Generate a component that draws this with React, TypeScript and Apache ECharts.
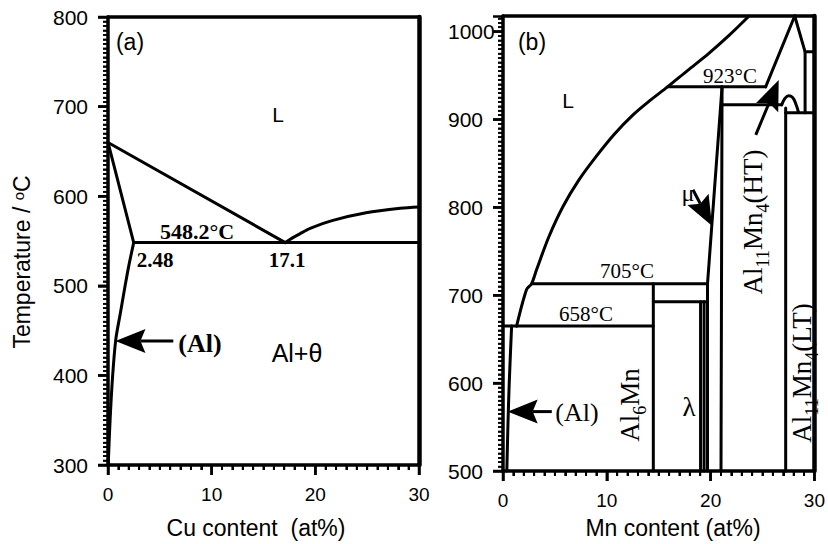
import React, { useEffect, useRef } from 'react';
import * as echarts from 'echarts';

// ---------- Panel (a): Al–Cu ----------
const cuXRange = [0, 30];
const cuYRange = [300, 800];
const cuXMajorTicks = [0, 10, 20, 30];
const cuYMajorTicks = [300, 400, 500, 600, 700, 800];
const cuLiquidusLeft = [[0, 660], [17.1, 548.2]];
const cuLiquidusRight = [[17.1, 548.2], [17.8, 553.5], [18.5, 558], [19.5, 564], [21.7, 573], [24.9, 581.5], [28.2, 586.5], [30, 588]];
const cuSolidus = [[0, 660], [2.48, 548.2]];
const cuEutectic = [[2.48, 548.2], [30, 548.2]];
const cuSolvus = [[2.48, 548.2], [2.0, 522], [1.65, 500], [1.2, 470], [0.75, 440], [0.45, 400], [0.2, 350], [0.02, 300]];
const cuArrows = [[6.3, 438.5, 0.72, 438.5]];

// ---------- Panel (b): Al–Mn ----------
const mnXRange = [0, 30];
const mnYRange = [500, 1017.8];
const mnXMajorTicks = [0, 10, 20, 30];
const mnYMajorTicks = [500, 600, 700, 800, 900, 1000];
const mnLiquidus = [[1.31, 664.8], [2.27, 706.5], [2.75, 713], [3.23, 729], [4.4, 766], [5.78, 801], [7.3, 831], [8.98, 858], [10.7, 883], [12.5, 905], [14.2, 922], [15.85, 937.2], [17.8, 956], [19.8, 975], [21.8, 996], [23.7, 1017.8]];
const mnSolvus = [[0.83, 665], [0.6, 600], [0.47, 550], [0.37, 500]];
const mnEutectic = [[0, 665], [14.48, 665]];
const mnPeritectic705 = [[2.75, 713], [19.7, 713]];
const mnLine692 = [[14.48, 692.5], [19.7, 692.5]];
const mnAl6MnRight = [[14.48, 713], [14.48, 500]];
const mnLambdaLeft = [[19.03, 692.5], [19.03, 500]];
const mnLambdaRight = [[19.37, 692.5], [19.37, 500]];
const mnMuLeft = [[21.1, 937.2], [19.7, 713], [19.7, 500]];
const mnMuRight = [[21.1, 937.2], [21.0, 500]];
const mnPeritectic923 = [[15.85, 937.2], [25.3, 937.2]];
const mnHTBoundary = [[28.1, 1017.8], [25.3, 937.2]];
const mnTopRight = [[28.1, 1017.8], [29.1, 977], [30, 977]];
const mnRightVertical = [[29.1, 977], [29.1, 907.6]];
const mnLine917 = [[21.05, 916.7], [26.85, 916.7]];
const mnBump = [[26.85, 916.7], [27.1, 923], [27.5, 927], [27.9, 925], [28.2, 918], [28.45, 909]];
const mnLine908 = [[27.23, 907.6], [30, 907.6]];
const mnLTLeft = [[27.23, 913], [27.23, 500]];
const mnArrows = [[4.7, 567.6, 0.45, 567.6], [18.3, 820, 20.13, 779], [24.35, 882.6, 26.56, 945]];

// minor tick steps (axis units)
const xMinorStep = 1;
const yMinorStep = 5;

const SANS = '"Liberation Sans", Arial, sans-serif';
const SERIF = '"Liberation Serif", "Times New Roman", serif';

function lineSeries(data: any[], idx: number, smooth: boolean | number = false, width = 3) {
  return {
    type: 'line',
    data,
    xAxisIndex: idx,
    yAxisIndex: idx,
    showSymbol: false,
    symbol: 'none',
    smooth,
    clip: false,
    silent: true,
    lineStyle: { color: '#000', width, cap: 'round', join: 'round' },
  };
}

function arrowSeries(data: number[][], idx: number) {
  const L = 30;
  const W = 12;
  const N = 5;
  return {
    type: 'custom',
    coordinateSystem: 'cartesian2d',
    xAxisIndex: idx,
    yAxisIndex: idx,
    silent: true,
    clip: false,
    data,
    encode: { x: [0, 2], y: [1, 3] },
    renderItem: (params: any, api: any) => {
      const p1 = api.coord([api.value(0), api.value(1)]);
      const p2 = api.coord([api.value(2), api.value(3)]);
      const dx = p2[0] - p1[0];
      const dy = p2[1] - p1[1];
      const len = Math.hypot(dx, dy) || 1;
      const ux = dx / len;
      const uy = dy / len;
      const bx = p2[0] - ux * L;
      const by = p2[1] - uy * L;
      const nx = p2[0] - ux * (L - N);
      const ny = p2[1] - uy * (L - N);
      return {
        type: 'group',
        children: [
          { type: 'line', shape: { x1: p1[0], y1: p1[1], x2: nx, y2: ny }, style: { stroke: '#000', lineWidth: 3 } },
          {
            type: 'polygon',
            shape: { points: [[p2[0], p2[1]], [bx - uy * W, by + ux * W], [nx, ny], [bx + uy * W, by - ux * W]] },
            style: { fill: '#000' },
          },
        ],
      };
    },
  };
}

function txt(text: string, x: number, y: number, size: number, family: string, weight: string = 'normal', rotation = 0, rich?: any) {
  const style: any = {
    text,
    fontSize: size,
    fontFamily: family,
    fontWeight: weight,
    fill: '#000',
    align: 'center',
    verticalAlign: 'middle',
  };
  if (rich) style.rich = rich;
  return { type: 'text', x, y, rotation, silent: true, style };
}

const subRich = (size: number, family: string) => ({
  m: { fontSize: size, fontFamily: family, lineHeight: size + 10, verticalAlign: 'middle' },
  s: { fontSize: Math.round(size * 0.68), fontFamily: family, lineHeight: Math.round(size * 0.68), verticalAlign: 'bottom' },
});

function makeAxis(kind: 'x' | 'y', grid: number, range: number[], interval: number, minorSplit: number, label: any) {
  return {
    type: 'value',
    gridIndex: grid,
    position: kind === 'x' ? 'bottom' : 'left',
    min: range[0],
    max: range[1],
    interval,
    axisLine: { show: true, onZero: false, lineStyle: { color: '#000', width: 3.5 } },
    axisTick: { show: true, inside: false, length: 10, lineStyle: { color: '#000', width: 2.5 } },
    minorTick: { show: true, splitNumber: minorSplit, length: 5, lineStyle: { color: '#000', width: kind === 'x' ? 2 : 1.6 } },
    splitLine: { show: false },
    minorSplitLine: { show: false },
    axisLabel: {
      show: true,
      color: '#000',
      fontFamily: SANS,
      formatter: (v: number) => String(v),
      ...label,
    },
  };
}

function frameAxis(kind: 'x' | 'y', grid: number, range: number[]) {
  return {
    type: 'value',
    gridIndex: grid,
    position: kind === 'x' ? 'top' : 'right',
    min: range[0],
    max: range[1],
    axisLine: { show: true, onZero: false, lineStyle: { color: '#000', width: kind === 'x' ? 3.5 : 4.5 } },
    axisTick: { show: false },
    minorTick: { show: false },
    axisLabel: { show: false },
    splitLine: { show: false },
  };
}

// tick marks placed with the chart's own scale (convertToPixel)
function buildTicks(chart: any, gridIndex: number, xRange: number[], yRange: number[], yTop: number, xMajor: number[], yMajor: number[]) {
  const out: any[] = [];
  for (let v = xRange[0]; v <= xRange[1] + 1e-9; v += xMinorStep) {
    const r = Math.round(v * 1000) / 1000;
    const major = xMajor.indexOf(r) >= 0;
    const p = chart.convertToPixel({ gridIndex }, [r, yRange[0]]);
    if (!p) continue;
    const len = major ? 10 : 5;
    out.push({
      type: 'line', silent: true, z: 50,
      shape: { x1: p[0], y1: p[1] - 1, x2: p[0], y2: p[1] + len },
      style: { stroke: '#000', lineWidth: major ? 2.5 : 2 },
    });
  }
  for (let v = yRange[0]; v <= yTop + 1e-9; v += yMinorStep) {
    const r = Math.round(v * 1000) / 1000;
    const major = yMajor.indexOf(r) >= 0;
    const p = chart.convertToPixel({ gridIndex }, [xRange[0], r]);
    if (!p) continue;
    const len = major ? 10 : 5;
    out.push({
      type: 'line', silent: true, z: 50,
      shape: { x1: p[0] + 1, y1: p[1], x2: p[0] - len, y2: p[1] },
      style: { stroke: '#000', lineWidth: major ? 2.5 : 1.6 },
    });
  }
  return out;
}

export default function App() {
  const ref = useRef<HTMLDivElement>(null);
  useEffect(() => {
    document.body.style.margin = '0';
    if (!ref.current) return;
    const chart = echarts.init(ref.current, null, { renderer: 'svg' });

    const texts = [
      // panel (a)
      txt('(a)', 130, 42, 23, SANS),
      txt('L', 278, 114, 21, SANS),
      txt('548.2°C', 197, 231, 22, SERIF, 'bold'),
      txt('2.48', 155, 260, 21, SERIF, 'bold'),
      txt('17.1', 287, 260, 21, SERIF, 'bold'),
      txt('(Al)', 200, 343, 26, SERIF, 'bold'),
      txt('Al+θ', 297, 353, 25, SANS),
      txt('Temperature / {sup|o}C', 22, 262, 23, SANS, 'normal', Math.PI / 2, {
        sup: { fontSize: 15, fontFamily: SANS, verticalAlign: 'top', lineHeight: 15 },
      }),
      txt('Cu content  (at%)', 256, 528, 23, SANS),
      // panel (b)
      txt('(b)', 532, 42, 23, SANS),
      txt('L', 568, 100, 21, SANS),
      txt('923°C', 730, 76, 21, SERIF),
      txt('705°C', 627, 271, 21, SERIF),
      txt('658°C', 586, 314, 21, SERIF),
      txt('μ', 688, 193, 24, SERIF),
      txt('λ', 689, 407, 27, SERIF),
      txt('(Al)', 577, 412, 26, SERIF),
      txt('{m|Al}{s|6}{m|Mn}', 630, 405, 27, SERIF, 'normal', Math.PI / 2, subRich(27, SERIF)),
      txt('{m|Al}{s|11}{m|Mn}{s|4}{m|(HT)}', 753, 222, 27, SERIF, 'normal', Math.PI / 2, subRich(27, SERIF)),
      txt('{m|Al}{s|11}{m|Mn}{s|4}{m|(LT)}', 802, 373, 27, SERIF, 'normal', Math.PI / 2, subRich(27, SERIF)),
      txt('Mn content (at%)', 673, 528, 23, SANS),
    ];

    const option: any = {
      animation: false,
      backgroundColor: '#fff',
      grid: [
        { left: 108, top: 17, width: 311, height: 448, show: false },
        { left: 503, top: 16, width: 313, height: 455, show: false },
      ],
      xAxis: [
        makeAxis('x', 0, cuXRange, 10, 10, { fontSize: 19, margin: 20 }),
        makeAxis('x', 1, mnXRange, 10, 10, { fontSize: 19, margin: 20 }),
        frameAxis('x', 0, cuXRange),
        frameAxis('x', 1, mnXRange),
      ],
      yAxis: [
        makeAxis('y', 0, cuYRange, 100, 20, { fontSize: 21, margin: 20 }),
        makeAxis('y', 1, mnYRange, 100, 20, { fontSize: 21, margin: 55, align: 'left', showMaxLabel: false }),
        frameAxis('y', 0, cuYRange),
        frameAxis('y', 1, mnYRange),
      ],
      series: [
        lineSeries(cuLiquidusLeft, 0),
        lineSeries(cuLiquidusRight, 0, 0.3),
        lineSeries(cuSolidus, 0),
        lineSeries(cuEutectic, 0),
        lineSeries(cuSolvus, 0, 0.3),
        arrowSeries(cuArrows, 0),
        lineSeries(mnLiquidus, 1, 0.3),
        lineSeries(mnSolvus, 1, 0.3),
        lineSeries(mnEutectic, 1),
        lineSeries(mnPeritectic705, 1),
        lineSeries(mnLine692, 1),
        lineSeries(mnAl6MnRight, 1),
        lineSeries(mnLambdaLeft, 1),
        lineSeries(mnLambdaRight, 1),
        lineSeries(mnMuLeft, 1),
        lineSeries(mnMuRight, 1),
        lineSeries(mnPeritectic923, 1),
        lineSeries(mnHTBoundary, 1),
        lineSeries(mnTopRight, 1),
        lineSeries(mnRightVertical, 1),
        lineSeries(mnLine917, 1),
        lineSeries(mnBump, 1, 0.4),
        lineSeries(mnLine908, 1),
        lineSeries(mnLTLeft, 1),
        arrowSeries(mnArrows, 1),
      ],
      graphic: texts,
    };
    chart.setOption(option);

    try {
      const ticks = [
        ...buildTicks(chart, 0, cuXRange, cuYRange, cuYRange[1], cuXMajorTicks, cuYMajorTicks),
        ...buildTicks(chart, 1, mnXRange, mnYRange, 1015, mnXMajorTicks, mnYMajorTicks),
      ];
      chart.setOption({ graphic: [...texts, ...ticks] });
    } catch (e) {
      // keep chart without extra ticks
    }
    return () => chart.dispose();
  }, []);
  return <div ref={ref} style={{ width: 828, height: 544 }} />;
}
